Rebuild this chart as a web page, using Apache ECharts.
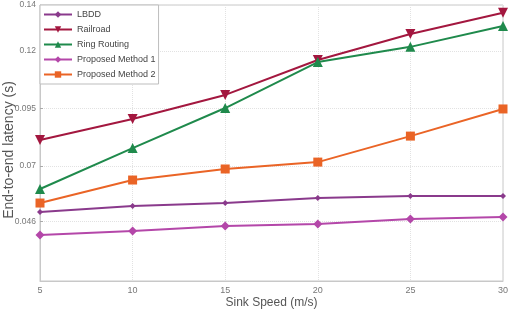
<!DOCTYPE html>
<html><head><meta charset="utf-8">
<script src="https://cdn.jsdelivr.net/npm/echarts@6/dist/echarts.min.js"></script>
<style>html,body{margin:0;padding:0;background:#fff}#c{width:527px;height:310px}</style>
</head><body><div id="c"></div>
<script>
const speeds = [5, 10, 15, 20, 25, 30];
const lbdd = [0.0500, 0.0526, 0.0539, 0.0561, 0.0570, 0.0570];
const railroad = [0.0813, 0.0904, 0.1009, 0.1161, 0.1274, 0.1366];
const ringRouting = [0.0600, 0.0778, 0.0952, 0.1152, 0.1218, 0.1309];
const proposed1 = [0.0400, 0.0417, 0.0439, 0.0448, 0.0470, 0.0478];
const proposed2 = [0.0539, 0.0639, 0.0687, 0.0717, 0.0830, 0.0948];
const yTickValues = [0.046, 0.07, 0.095, 0.12, 0.14];
const yTickLabels = ['0.046', '0.07', '0.095', '0.12', '0.14'];
const xTicks = [5, 10, 15, 20, 25, 30];

const pair = arr => speeds.map((s, i) => [s, arr[i]]);
const mk = (name, data, color, symbol, size, rot) => ({
  name, type: 'line', data: pair(data), symbol, symbolSize: size, symbolRotate: rot || 0,
  lineStyle: { color, width: 2 }, itemStyle: { color }, animation: false
});

const chart = echarts.init(document.getElementById('c'));
chart.setOption({
  animation: false,
  grid: { left: 40, right: 24, top: 5, bottom: 29, show: true, borderColor: '#c8c8c8', borderWidth: 1,
    outerBoundsMode: 'none', containLabel: false },
  legend: {
    orient: 'vertical', left: 40, top: 5, itemWidth: 28, itemHeight: 8, itemGap: 6,
    backgroundColor: '#fff', borderColor: '#bdbdbd', borderWidth: 1, padding: [5, 3, 5, 3],
    textStyle: { fontSize: 9, color: '#444', fontFamily: 'Liberation Sans' },
    data: ['LBDD', 'Railroad', 'Ring Routing', 'Proposed Method 1', 'Proposed Method 2']
  },
  xAxis: {
    type: 'value', min: 5, max: 30, interval: 5,
    name: 'Sink Speed (m/s)', nameLocation: 'middle', nameGap: 16, nameMoveOverlap: false,
    nameTextStyle: { fontSize: 12, color: '#555', fontFamily: 'Liberation Sans' },
    axisLine: { lineStyle: { color: '#c8c8c8' } },
    axisTick: { show: false },
    axisLabel: { fontSize: 9, color: '#777', margin: 5, fontFamily: 'Liberation Sans' },
    splitLine: { show: true, lineStyle: { color: '#e2e2e2', type: 'dotted' } }
  },
  yAxis: {
    type: 'value', min: 0.02, max: 0.14,
    name: 'End-to-end latency (s)', nameLocation: 'middle', nameGap: 24, nameMoveOverlap: false,
    nameTextStyle: { fontSize: 14, color: '#555', fontFamily: 'Liberation Sans', padding: [0, 14, 0, 0] },
    axisLine: { show: true, lineStyle: { color: '#c8c8c8' } },
    axisTick: { show: true, customValues: yTickValues, length: 3, inside: true, lineStyle: { color: '#aaa' } },
    axisLabel: { customValues: yTickValues, fontSize: 8.5, color: '#777', margin: 4, fontFamily: 'Liberation Sans',
      formatter: v => { const i = yTickValues.findIndex(t => Math.abs(t - v) < 1e-9); return i >= 0 ? yTickLabels[i] : ''; } },
    splitLine: { show: true, lineStyle: { color: '#e2e2e2', type: 'dotted' } }
  },
  series: [
    mk('LBDD', lbdd, '#8a3a8c', 'diamond', 6),
    mk('Railroad', railroad, '#a3173f', 'triangle', 10, 180),
    mk('Ring Routing', ringRouting, '#1f8a4c', 'triangle', 10),
    mk('Proposed Method 1', proposed1, '#b447a9', 'diamond', 9),
    mk('Proposed Method 2', proposed2, '#ea6426', 'rect', 9)
  ]
});
</script></body></html>
